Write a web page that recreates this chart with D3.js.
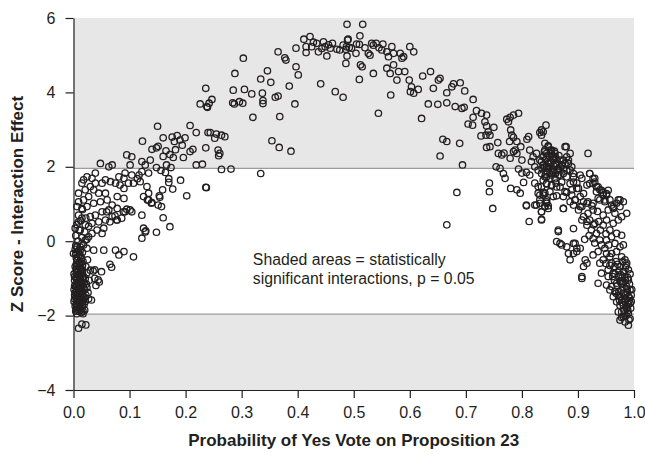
<!DOCTYPE html>
<html lang="en">
<head>
<meta charset="UTF-8">
<title>Z Score - Interaction Effect</title>
<script src="https://cdn.jsdelivr.net/npm/d3@7"></script>
<style>
  body { margin: 0; background: #fff; }
  svg { display: block; font-family: "Liberation Sans", Arial, Helvetica, sans-serif; }
</style>
</head>
<body>
<div id="chart"></div>
<script>
// [probability of yes vote, z score], grouped by stretch of the arc
const tailLeft = [
  [0.001,-0.88],[0.001,-1.30],[0.001,-1.62],[0.002,-1.05],[0.002,-1.55],[0.003,-0.68],[0.003,-1.38],[0.003,-1.75],
  [0.003,-0.22],[0.004,-0.35],[0.004,-1.22],[0.004,-1.88],[0.004,-0.12],[0.005,-0.95],[0.005,-1.68],[0.006,-0.52],
  [0.006,-1.45],[0.006,-1.32],[0.006,-1.95],[0.007,-1.12],[0.007,-1.82],[0.008,-0.80],[0.008,-1.60],[0.008,-0.42],
  [0.008,0.00],[0.009,-1.30],[0.009,-1.48],[0.009,-0.25],[0.010,-1.88],[0.010,-1.18],[0.010,-0.60],[0.011,-1.50],
  [0.011,-0.88],[0.011,-1.78],[0.012,-1.70],[0.012,-1.02],[0.012,-0.40],[0.012,-0.15],[0.013,-1.35],[0.013,-0.72],
  [0.014,-0.45],[0.014,-1.92],[0.015,-1.10],[0.015,-1.76],[0.016,-0.30],[0.016,-0.78],[0.016,-1.42],[0.017,-0.55],
  [0.017,-1.25],[0.017,-1.88],[0.017,-1.95],[0.018,-0.95],[0.018,-1.58],[0.019,-1.12],[0.020,-1.85],[0.020,-1.30],
  [0.021,-1.62],[0.021,-1.00],[0.022,-1.45],[0.022,-0.68],[0.023,-1.15],[0.024,-0.85],[0.025,-0.50],[0.026,-1.38],
  [0.027,-1.55],[0.028,-1.05],[0.030,-0.78],[0.009,-2.34],[0.015,-2.23],[0.022,-2.25],[0.004,0.15],[0.010,0.30],
  [0.006,0.45],[0.015,0.10],[0.020,0.25],[0.013,0.55],[0.018,-0.10],[0.024,0.05],[0.027,0.40],[0.022,0.62],
  [0.009,0.70],[0.016,0.85],[0.005,-0.75],[0.007,-1.58],[0.011,-1.25],[0.013,-0.98],[0.019,-1.70],[0.014,-1.55],
  [0.006,-1.02],[0.024,-1.25],[0.015,-0.86],[0.032,-1.58],[0.040,-1.19],[0.046,-1.10],[0.044,-1.04],[0.035,-0.80],
  [0.050,-0.82],[0.038,-1.00],[0.038,-0.77],
  [0.005,-1.85],[0.011,-1.80],[0.005,-1.72],[0.011,-1.64],[0.005,-1.52],[0.011,-1.42],[0.005,-1.35],[0.011,-1.28],
  [0.005,-1.18],[0.011,-1.08],[0.005,-1.00],[0.011,-0.92],[0.005,-0.82],[0.011,-0.72],[0.005,-0.62],[0.011,-0.55],
  [0.005,-0.45],[0.011,-0.35],[0.016,-1.72],[0.016,-1.55],[0.016,-1.35],[0.016,-1.18],[0.016,-1.00],[0.016,-0.88],
  [0.016,-0.65],[0.008,-1.70],[0.008,-1.40],[0.008,-1.10],[0.008,-0.92],[0.008,-0.62],[0.013,-1.85],[0.013,-1.60],
  [0.013,-1.45],[0.013,-1.15],[0.013,-0.82],[0.013,-0.60],[0.002,-1.20],[0.002,-1.45],[0.002,-0.95],[0.020,-1.50]
];

const armRise = [
  [0.095,2.32],[0.104,2.27],[0.101,2.05],[0.122,2.14],[0.128,2.05],[0.137,2.18],[0.122,1.87],[0.134,1.83],
  [0.104,1.78],[0.092,1.83],[0.090,1.69],[0.081,1.73],[0.069,2.05],[0.063,2.00],[0.048,2.09],[0.039,1.83],
  [0.033,1.69],[0.024,1.73],[0.018,1.65],[0.015,1.56],[0.009,1.29],[0.021,1.38],[0.030,1.47],[0.039,1.56],
  [0.051,1.56],[0.057,1.65],[0.066,1.60],[0.075,1.56],[0.083,1.51],[0.090,1.42],[0.098,1.56],[0.107,1.56],
  [0.119,1.60],[0.131,1.47],[0.134,1.29],[0.125,1.20],[0.134,1.11],[0.057,1.29],[0.045,1.29],[0.036,1.38],
  [0.027,1.20],[0.018,1.11],[0.009,1.06],[0.006,0.93],[0.015,0.88],[0.024,0.93],[0.036,1.02],[0.048,1.06],
  [0.060,1.11],[0.078,1.20],[0.090,1.15],[0.069,0.97],[0.078,0.88],[0.063,0.84],[0.051,0.79],[0.039,0.70],
  [0.030,0.66],[0.015,0.62],[0.009,0.52],[0.003,0.35],[0.012,0.30],[0.021,0.44],[0.033,0.48],[0.045,0.52],
  [0.057,0.57],[0.069,0.66],[0.078,0.57],[0.092,0.79],[0.101,0.84],[0.122,0.70],[0.125,0.35],[0.122,0.08],
  [0.128,0.25],[0.054,0.35],[0.051,0.21],[0.042,0.30],[0.033,0.21],[0.027,0.12],[0.021,0.03],[0.015,-0.06],
  [0.006,-0.15],[0.000,-0.33],[0.012,-0.24],[0.024,-0.19],[0.036,-0.24],[0.054,-0.24],[0.075,-0.24],[0.081,-0.37],
  [0.090,-0.28],[0.107,-0.42],[0.129,0.28],[0.148,0.24],[0.172,0.39],[0.160,0.63],[0.202,1.22],[0.236,1.45],
  [0.157,0.93],[0.154,1.18],[0.139,1.02],[0.104,0.79],[0.089,0.79],[0.095,0.86],[0.086,0.62],[0.074,0.68],
  [0.077,0.57],[0.065,0.52],[0.059,0.79],[0.065,-0.62],[0.068,-0.70],[0.236,4.11],[0.226,3.69],[0.238,3.62],
  [0.150,3.09],[0.208,3.11],[0.219,2.92],[0.240,2.92],[0.123,2.69],[0.160,2.78],[0.176,2.80],[0.185,2.84],
  [0.199,2.78],[0.180,2.68],[0.190,2.72],[0.194,2.58],[0.236,2.51],[0.213,2.47],[0.208,2.41],[0.140,2.47],
  [0.148,2.51],[0.151,2.55],[0.165,2.43],[0.182,2.46],[0.172,2.33],[0.160,2.28],[0.178,2.25],[0.196,2.25],
  [0.148,1.98],[0.156,1.90],[0.166,2.05],[0.174,1.98],[0.164,1.85],[0.219,2.05],[0.230,2.07],[0.117,1.78],
  [0.114,1.68],[0.191,1.64],[0.170,1.68],[0.170,1.58],[0.177,1.40],[0.153,1.22],[0.159,1.38],[0.132,1.11],
  [0.140,1.04],[0.151,0.97],[0.247,3.81],[0.242,3.71],[0.239,3.60],[0.303,4.92],[0.288,4.51],[0.285,4.06],
  [0.305,4.08],[0.284,3.72],[0.287,3.69],[0.296,3.75],[0.302,3.71],[0.318,3.96],[0.320,3.33],[0.264,2.85],
  [0.255,2.88],[0.252,2.77],[0.270,2.81],[0.244,2.92],[0.258,2.45],[0.261,2.36],[0.259,2.30],[0.264,1.93],
  [0.281,1.94],[0.237,1.44]
];

const crest = [
  [0.334,4.36],[0.346,4.58],[0.352,4.27],[0.337,3.98],[0.338,3.78],[0.338,3.70],[0.360,3.87],[0.365,3.90],
  [0.368,3.35],[0.354,2.70],[0.367,2.52],[0.388,2.42],[0.334,1.82],[0.365,5.09],[0.377,4.93],[0.379,4.87],
  [0.397,5.19],[0.397,4.69],[0.401,4.47],[0.385,4.17],[0.395,3.69],[0.411,5.43],[0.422,5.50],[0.415,5.23],
  [0.415,5.07],[0.425,5.23],[0.434,5.32],[0.437,5.09],[0.446,5.36],[0.452,4.98],[0.449,5.23],[0.458,5.19],
  [0.462,5.32],[0.470,5.16],[0.475,5.14],[0.481,5.27],[0.489,5.41],[0.487,5.23],[0.486,4.78],[0.441,4.23],
  [0.467,4.02],[0.481,3.87],[0.488,5.83],[0.516,5.83],[0.511,5.52],[0.490,5.43],[0.492,5.21],[0.486,5.16],
  [0.496,5.19],[0.504,5.05],[0.488,4.98],[0.510,5.29],[0.512,4.74],[0.515,4.69],[0.532,5.32],[0.535,5.27],
  [0.540,5.32],[0.552,5.30],[0.550,5.14],[0.526,5.05],[0.529,5.00],[0.559,5.09],[0.568,5.23],[0.562,4.96],
  [0.571,5.05],[0.583,5.05],[0.586,4.92],[0.589,4.96],[0.600,5.23],[0.607,5.09],[0.571,4.74],[0.580,4.56],
  [0.591,4.56],[0.559,4.65],[0.565,4.51],[0.535,4.51],[0.577,4.33],[0.510,4.35],[0.599,4.33],[0.623,4.44],
  [0.637,4.56],[0.654,4.38],[0.651,4.33],[0.642,4.11],[0.603,4.15],[0.601,4.02],[0.607,3.98],[0.615,4.08],
  [0.566,3.93],[0.544,3.44],[0.621,3.30],[0.633,3.69],[0.650,3.68],[0.443,5.18],[0.428,5.35],[0.455,5.28],
  [0.505,5.30],[0.520,5.20],[0.545,5.20]
];

const armFall = [
  [0.666,3.99],[0.675,4.15],[0.678,4.23],[0.690,4.26],[0.698,4.04],[0.713,3.81],[0.666,3.72],[0.681,3.62],
  [0.693,3.57],[0.697,3.60],[0.719,3.51],[0.728,3.44],[0.737,3.39],[0.713,3.33],[0.704,3.15],[0.712,3.12],
  [0.734,3.21],[0.737,3.10],[0.740,2.94],[0.727,2.83],[0.736,2.85],[0.737,2.52],[0.659,2.74],[0.666,2.68],
  [0.689,2.63],[0.654,2.29],[0.694,2.05],[0.684,1.31],[0.742,1.56],[0.742,1.33],[0.666,0.44],[0.743,2.85],
  [0.750,3.06],[0.743,2.54],[0.757,2.65],[0.754,2.00],[0.761,1.96],[0.767,1.82],[0.770,1.69],[0.758,2.36],
  [0.764,2.32],[0.773,3.28],[0.779,3.33],[0.785,3.39],[0.794,3.44],[0.776,3.21],[0.780,2.99],[0.782,2.85],
  [0.785,2.79],[0.778,2.68],[0.791,2.68],[0.798,2.54],[0.788,2.45],[0.785,2.41],[0.768,2.37],[0.779,2.23],
  [0.800,2.18],[0.791,2.36],[0.812,2.81],[0.809,2.74],[0.835,2.99],[0.832,2.92],[0.748,0.88],[0.780,1.42],
  [0.791,1.38],[0.797,1.29],[0.803,1.58],[0.794,1.94],[0.800,1.83],[0.808,1.85],[0.814,1.78],[0.808,0.95],
  [0.813,0.53],[0.823,0.97],[0.835,0.79],[0.835,0.59],[0.847,0.95]
];

const clusterRight = [
  [0.843,3.12],[0.838,2.94],[0.835,2.85],[0.841,2.63],[0.847,2.54],[0.853,2.45],[0.844,2.36],[0.838,2.27],
  [0.850,2.27],[0.859,2.36],[0.856,2.18],[0.847,2.09],[0.841,2.00],[0.835,2.14],[0.862,2.09],[0.868,2.18],
  [0.865,1.95],[0.856,1.91],[0.850,1.82],[0.844,1.73],[0.838,1.64],[0.859,1.68],[0.868,1.77],[0.877,2.54],
  [0.886,2.36],[0.883,2.18],[0.877,2.09],[0.874,1.95],[0.880,1.91],[0.889,2.00],[0.892,1.82],[0.880,1.73],
  [0.871,1.59],[0.862,1.46],[0.853,1.50],[0.844,1.55],[0.835,1.46],[0.838,1.24],[0.844,1.11],[0.841,0.93],
  [0.835,0.79],[0.835,0.57],[0.847,0.88],[0.856,1.20],[0.850,1.33],[0.918,2.36],[0.814,2.45],[0.820,2.27],
  [0.817,2.14],[0.826,2.36],[0.823,2.00],[0.832,2.18],[0.829,1.91],[0.835,1.82],[0.841,2.45],[0.847,2.56],
  [0.853,2.36],[0.859,2.27],[0.850,2.09],[0.862,2.05],[0.856,1.87],[0.844,2.00],[0.841,1.73],[0.850,1.69],
  [0.868,2.00],[0.874,2.18],[0.880,2.27],[0.883,2.09],[0.874,1.82],[0.865,1.78],[0.886,1.91],[0.892,1.73],
  [0.879,2.54],[0.823,1.56],[0.829,1.47],[0.829,1.29],[0.838,1.31],[0.832,1.02],[0.826,0.97],[0.841,0.93],
  [0.844,1.06],[0.808,0.97],[0.832,1.24],[0.841,1.29],[0.853,1.51],[0.861,1.56],[0.862,1.22],[0.844,1.54],
  [0.874,0.88],[0.865,0.26],
  [0.838,2.05],[0.843,2.20],[0.848,1.95],[0.852,2.12],[0.846,2.30],[0.857,2.02],[0.861,2.22],[0.853,1.78],
  [0.845,1.86],[0.858,2.42],[0.866,2.30],[0.840,2.40],[0.849,2.00],[0.855,2.28],[0.863,1.90],[0.836,1.95],
  [0.871,2.05],[0.842,1.80],[0.851,2.45],[0.860,1.82]
];

const tailRight = [
  [0.921,1.82],[0.927,1.68],[0.930,1.59],[0.921,1.55],[0.936,1.46],[0.942,1.37],[0.933,1.33],[0.945,1.24],
  [0.951,1.28],[0.954,1.37],[0.939,1.11],[0.948,1.06],[0.957,1.11],[0.960,0.97],[0.972,1.11],[0.975,0.93],
  [0.963,0.88],[0.954,0.84],[0.966,0.75],[0.978,0.66],[0.987,0.75],[0.972,0.57],[0.963,0.48],[0.951,0.57],
  [0.945,0.43],[0.957,0.30],[0.969,0.21],[0.978,0.16],[0.960,0.12],[0.951,0.03],[0.966,-0.06],[0.975,-0.15],
  [0.981,-0.10],[0.969,-0.28],[0.960,-0.33],[0.978,-0.42],[0.984,-0.50],[0.987,-0.59],[0.975,-0.68],[0.981,-0.82],
  [0.990,-0.77],[0.984,-0.95],[0.990,-1.04],[0.978,-1.13],[0.987,-1.22],[0.993,-1.31],[0.981,-1.40],[0.990,-1.49],
  [0.984,-1.63],[0.993,-1.67],[0.975,-1.72],[0.987,-1.81],[0.978,-1.90],[0.990,-1.94],[0.975,-2.12],[0.984,-2.17],
  [0.990,-2.26],[0.868,1.46],[0.877,1.33],[0.886,1.55],[0.892,1.59],[0.898,1.42],[0.889,1.24],[0.895,1.11],
  [0.904,1.20],[0.910,1.28],[0.916,1.02],[0.907,0.93],[0.901,0.84],[0.910,0.66],[0.918,0.75],[0.927,0.84],
  [0.921,0.57],[0.930,0.48],[0.916,0.43],[0.924,0.30],[0.933,0.21],[0.939,0.03],[0.927,0.07],[0.942,-0.10],
  [0.948,-0.19],[0.936,-0.28],[0.951,-0.33],[0.957,-0.42],[0.945,-0.50],[0.960,-0.59],[0.966,-0.68],[0.954,-0.77],
  [0.963,-0.86],[0.972,-0.95],[0.969,-1.13],[0.960,-1.22],[0.966,-1.35],[0.972,-1.45],[0.978,-1.58],[0.832,1.11],
  [0.844,1.02],[0.874,0.88],[0.892,0.34],[0.865,0.30],[0.862,-0.01],[0.871,-0.10],[0.880,-0.15],[0.892,-0.06],
  [0.898,-0.19],[0.892,-0.33],[0.886,-0.50],[0.913,-0.50],[0.916,-0.59],[0.910,-0.68],[0.907,-0.95],[0.927,-0.37],
  [0.939,-0.59],[0.942,-0.86],[0.954,-0.95],[0.936,-1.13],[0.951,-1.18],[0.957,-1.31],[0.963,-1.49],[0.969,-1.63],
  [0.972,-1.90],[0.981,-2.03],[0.898,1.56],[0.904,1.78],[0.907,1.69],[0.916,1.51],[0.921,1.82],[0.930,1.69],
  [0.927,1.55],[0.933,1.46],[0.939,1.38],[0.945,1.31],[0.951,1.24],[0.948,1.11],[0.936,1.15],[0.927,1.02],
  [0.918,1.06],[0.910,1.06],[0.904,0.93],[0.892,0.97],[0.886,1.06],[0.895,1.11],[0.901,1.42],[0.889,1.38],
  [0.880,1.31],[0.874,1.20],[0.975,1.11],[0.969,1.02],[0.981,1.06],[0.963,0.93],[0.868,-0.06],[0.883,-0.33],
  [0.895,-0.06],[0.898,-0.28],[0.904,-0.19],[0.907,-1.00],[0.907,0.57],[0.916,0.53],[0.928,0.44],[0.937,0.53],
  [0.985,-1.05],[0.992,-1.15],[0.980,-1.25],[0.988,-1.38],[0.995,-1.45],[0.976,-1.50],[0.984,-1.55],[0.991,-1.60],
  [0.979,-1.65],[0.987,-1.75],[0.994,-1.80],[0.982,-1.85],[0.990,-1.70],[0.996,-1.30],[0.970,-1.20],[0.973,-1.35],
  [0.986,-2.00],[0.978,-2.05],[0.993,-2.08],[0.965,-1.05],[0.962,-0.95],[0.973,-0.80],[0.968,-0.55],[0.985,-0.70],
  [0.993,-0.88],[0.957,-0.65],[0.950,-0.60],[0.925,0.95],[0.935,0.80],[0.945,0.70],[0.940,0.30],[0.950,0.20],
  [0.955,-0.10],[0.930,-0.05],[0.920,0.15],[0.912,0.05],
  [0.980,-0.55],[0.986,-0.65],[0.976,-0.90],[0.989,-0.98],[0.982,-1.10],[0.977,-1.32],[0.985,-1.45],[0.992,-1.52],
  [0.981,-1.72],[0.989,-1.86],[0.983,-1.95],[0.974,-1.58],[0.968,-1.40],[0.995,-1.62],[0.979,-0.98],[0.971,-0.62],
  [0.988,-1.28],[0.975,-1.08],[0.966,-0.88],[0.991,-2.12]
];

const xTicks = [0, 0.1, 0.2, 0.3, 0.4, 0.5, 0.6, 0.7, 0.8, 0.9, 1.0];
const yTicks = [-4, -2, 0, 2, 4, 6];
const critical = 1.96;
const noteLines = ["Shaded areas = statistically", "significant interactions, p = 0.05"];

const width = 645, height = 455;
const margin = { top: 18, right: 11, bottom: 65, left: 73.5 };

const svg = d3.select("#chart").append("svg")
  .attr("width", width)
  .attr("height", height);

const x = d3.scaleLinear().domain([0, 1]).range([margin.left, width - margin.right]);
const y = d3.scaleLinear().domain([-4, 6]).range([height - margin.bottom, margin.top]);

// shaded significance bands
const bands = [[critical, 6], [-4, -critical]];
svg.append("g").selectAll("rect")
  .data(bands)
  .join("rect")
  .attr("x", x(0))
  .attr("width", x(1) - x(0))
  .attr("y", d => y(d[1]))
  .attr("height", d => y(d[0]) - y(d[1]))
  .attr("fill", "#e7e7e8");

svg.append("g").selectAll("line")
  .data([critical, -critical])
  .join("line")
  .attr("x1", x(0)).attr("x2", x(1))
  .attr("y1", d => y(d)).attr("y2", d => y(d))
  .attr("stroke", "#9b9b9b")
  .attr("stroke-width", 1.2);

// points
const allPoints = [].concat(tailLeft, armRise, crest, armFall, clusterRight, tailRight);
svg.append("g").selectAll("circle")
  .data(allPoints)
  .join("circle")
  .attr("cx", d => x(d[0]))
  .attr("cy", d => y(d[1]))
  .attr("r", 3.2)
  .attr("fill", "none")
  .attr("stroke", "#231f20")
  .attr("stroke-width", 1.3);

// axes
const yAxis = svg.append("g")
  .attr("transform", `translate(${x(0)},0)`)
  .call(d3.axisLeft(y).tickValues(yTicks).tickSize(8).tickSizeOuter(0).tickPadding(10).tickFormat(d3.format("d")));

const xAxis = svg.append("g")
  .attr("transform", `translate(0,${y(-4)})`)
  .call(d3.axisBottom(x).tickValues(xTicks).tickSize(8).tickSizeOuter(0).tickPadding(9).tickFormat(d3.format(".1f")));

[yAxis, xAxis].forEach(g => {
  g.select(".domain").attr("stroke", "#231f20").attr("stroke-width", 1.2);
  g.selectAll(".tick line").attr("stroke", "#231f20").attr("stroke-width", 1.2);
  g.selectAll(".tick text")
    .attr("fill", "#231f20")
    .style("font-size", "16px")
    .style("font-family", "'Liberation Sans', Arial, sans-serif");
});

// axis titles
svg.append("text")
  .attr("transform", `translate(23,${(y(6) + y(-4)) / 2}) rotate(-90)`)
  .attr("text-anchor", "middle")
  .attr("fill", "#231f20")
  .style("font-size", "17px")
  .style("font-weight", "bold")
  .text("Z Score - Interaction Effect");

svg.append("text")
  .attr("x", (x(0) + x(1)) / 2)
  .attr("y", 446)
  .attr("text-anchor", "middle")
  .attr("fill", "#231f20")
  .style("font-size", "17px")
  .style("font-weight", "bold")
  .text("Probability of Yes Vote on Proposition 23");

// note inside the plot
svg.append("g").selectAll("text")
  .data(noteLines)
  .join("text")
  .attr("x", x(0.32))
  .attr("y", (d, i) => y(-0.64) + i * 19)
  .attr("fill", "#231f20")
  .style("font-size", "15.8px")
  .text(d => d);
</script>
</body>
</html>
